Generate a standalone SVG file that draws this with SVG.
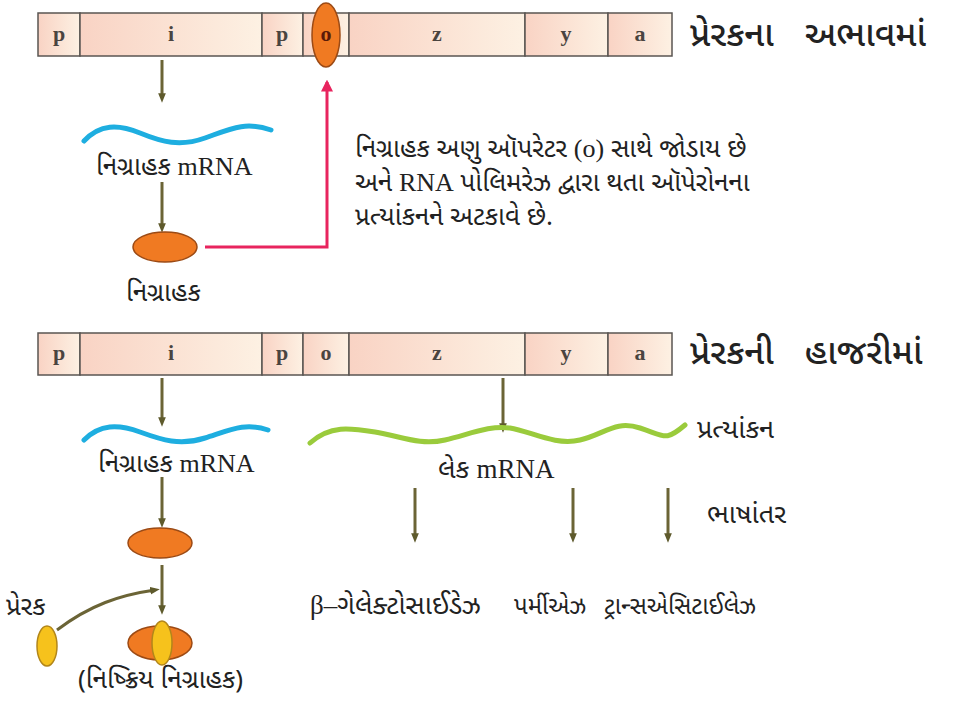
<svg xmlns="http://www.w3.org/2000/svg" width="960" height="706" viewBox="0 0 960 706">
<defs>
<linearGradient id="cellA" x1="0" y1="0" x2="1" y2="0">
<stop offset="0" stop-color="#f9d3c4"/><stop offset="1" stop-color="#fdf1e3"/>
</linearGradient>
<marker id="ah" viewBox="0 0 10 10" refX="5" refY="5" markerWidth="3.2" markerHeight="3.2" orient="auto">
<path d="M0,1 L10,5 L0,9 Z" fill="#5e5a2c"/>
</marker>
<marker id="ahr" viewBox="0 0 10 10" refX="8" refY="5" markerWidth="4" markerHeight="4" orient="auto">
<path d="M0,0 L10,5 L0,10 Z" fill="#e8245e"/>
</marker>
<style>
.cell{fill:url(#cellA);stroke:#5a5552;stroke-width:1.5}
.gl{font-family:"Liberation Serif",serif;font-size:22px;font-weight:bold;fill:#4a4440;text-anchor:middle}
.gu{font-family:"Noto Sans Gujarati","Noto Serif Gujarati","Lohit Gujarati","Shruti","Noto Sans",sans-serif;font-size:26px;fill:#222}
.lt{font-family:"Liberation Serif",serif}
.ttl{font-family:"Noto Sans Gujarati","Noto Serif Gujarati","Lohit Gujarati","Shruti","Noto Sans",sans-serif;font-size:35px;font-weight:500;fill:#222;word-spacing:22px}
.ar{stroke:#6b6436;stroke-width:3;fill:none;marker-end:url(#ah)}
.rep{fill:#f07a22;stroke:#9c4a14;stroke-width:1.5}
.ind{fill:#f6c21c;stroke:#b2861a;stroke-width:1.5}
</style>
</defs>

<g id="operon-top">
<rect class="cell" x="38" y="13" width="42" height="43"/>
<rect class="cell" x="80" y="13" width="182" height="43"/>
<rect class="cell" x="262" y="13" width="41" height="43"/>
<rect class="cell" x="303" y="13" width="46" height="43"/>
<rect class="cell" x="349" y="13" width="176" height="43"/>
<rect class="cell" x="525" y="13" width="83" height="43"/>
<rect class="cell" x="608" y="13" width="64" height="43"/>
<text class="gl" x="59" y="41">p</text>
<text class="gl" x="171" y="41">i</text>
<text class="gl" x="282" y="41">p</text>
<text class="gl" x="437" y="41">z</text>
<text class="gl" x="566" y="41">y</text>
<text class="gl" x="640" y="41">a</text>
</g>
<g id="repressor-bound">
<ellipse class="rep" cx="326" cy="35" rx="14" ry="32"/>
<text class="gl" x="326" y="41" style="fill:#5a1a08">o</text>
</g>
<g id="title-top"><text class="ttl" x="690" y="46">પ્રેરકના અભાવમાં</text></g>

<g id="connectors">
<path class="ar" d="M162,60 V98"/>
<path class="ar" d="M162,182 V228"/>
<path d="M205,247 H327 V82" stroke="#e8245e" stroke-width="3" fill="none" marker-end="url(#ahr)"/>
<path class="ar" d="M162,378 V422"/>
<path class="ar" d="M162,477 V523"/>
<path class="ar" d="M162,565 V610"/>
<path class="ar" d="M57,630 C90,605 120,595 155,590"/>
<path class="ar" d="M503,378 V428"/>
<path class="ar" d="M415,488 V538"/>
<path class="ar" d="M573,488 V538"/>
<path class="ar" d="M668,488 V538"/>
</g>

<g id="mrna-top">
<path d="M84,141 C100,124 118,124 140,133 S180,147 205,138 S245,121 271,130" stroke="#1eaee0" stroke-width="5" fill="none" stroke-linecap="round"/>
<text class="gu" x="96" y="175">નિગ્રાહક <tspan class="lt">mRNA</tspan></text>
</g>
<g id="repressor-top">
<ellipse class="rep" cx="165" cy="247" rx="32" ry="15"/>
<text class="gu" x="126" y="301">નિગ્રાહક</text>
</g>
<g id="note">
<text class="gu" x="355" y="157">નિગ્રાહક અણુ ઑપરેટર <tspan class="lt">(o)</tspan> સાથે જોડાય છે</text>
<text class="gu" x="355" y="191">અને <tspan class="lt">RNA</tspan> પોલિમરેઝ દ્વારા થતા ઑપેરોનના</text>
<text class="gu" x="355" y="225">પ્રત્યાંકનને અટકાવે છે.</text>
</g>

<g id="operon-bottom">
<rect class="cell" x="38" y="333" width="42" height="42"/>
<rect class="cell" x="80" y="333" width="182" height="42"/>
<rect class="cell" x="262" y="333" width="41" height="42"/>
<rect class="cell" x="303" y="333" width="46" height="42"/>
<rect class="cell" x="349" y="333" width="176" height="42"/>
<rect class="cell" x="525" y="333" width="83" height="42"/>
<rect class="cell" x="608" y="333" width="64" height="42"/>
<text class="gl" x="59" y="360">p</text>
<text class="gl" x="171" y="360">i</text>
<text class="gl" x="282" y="360">p</text>
<text class="gl" x="326" y="360">o</text>
<text class="gl" x="437" y="360">z</text>
<text class="gl" x="566" y="360">y</text>
<text class="gl" x="640" y="360">a</text>
</g>
<g id="title-bottom"><text class="ttl" x="690" y="364">પ્રેરકની હાજરીમાં</text></g>

<g id="mrna-bottom">
<path d="M84,440 C100,424 118,424 140,432 S180,446 205,438 S245,422 268,430" stroke="#1eaee0" stroke-width="5" fill="none" stroke-linecap="round"/>
<text class="gu" x="98" y="472">નિગ્રાહક <tspan class="lt">mRNA</tspan></text>
</g>
<g id="repressor-bottom"><ellipse class="rep" cx="160" cy="543" rx="32" ry="15"/></g>
<g id="inducer">
<ellipse class="ind" cx="47" cy="646" rx="10" ry="20"/>
<text class="gu" x="6" y="615">પ્રેરક</text>
</g>
<g id="inactive-repressor">
<ellipse class="rep" cx="160" cy="643" rx="32" ry="17"/>
<ellipse class="ind" cx="162" cy="643" rx="10" ry="22"/>
<text class="gu" x="78" y="688">(નિષ્ક્રિય નિગ્રાહક)</text>
</g>

<g id="lac-mrna">
<path d="M310,443 C330,425 350,428 375,432 S420,446 445,440 S490,425 510,428 S555,446 580,440 S615,420 640,428 S665,442 685,425" stroke="#9acb3c" stroke-width="5" fill="none" stroke-linecap="round"/>
<text class="gu" x="438" y="478" style="font-size:27px">લેક <tspan class="lt">mRNA</tspan></text>
</g>
<g id="transcription-label"><text class="gu" x="697" y="438" style="font-size:27px">પ્રત્યાંકન</text></g>
<g id="translation-label"><text class="gu" x="707" y="523" style="font-size:27px">ભાષાંતર</text></g>
<g id="products">
<text class="gu" x="310" y="614" style="font-size:27px"><tspan class="lt">β–</tspan>ગેલેક્ટોસાઈડેઝ</text>
<text class="gu" x="514" y="614" style="font-size:24px">પર્મીએઝ</text>
<text class="gu" x="604" y="614" style="font-size:24px">ટ્રાન્સએસિટાઈલેઝ</text>
</g>
</svg>
